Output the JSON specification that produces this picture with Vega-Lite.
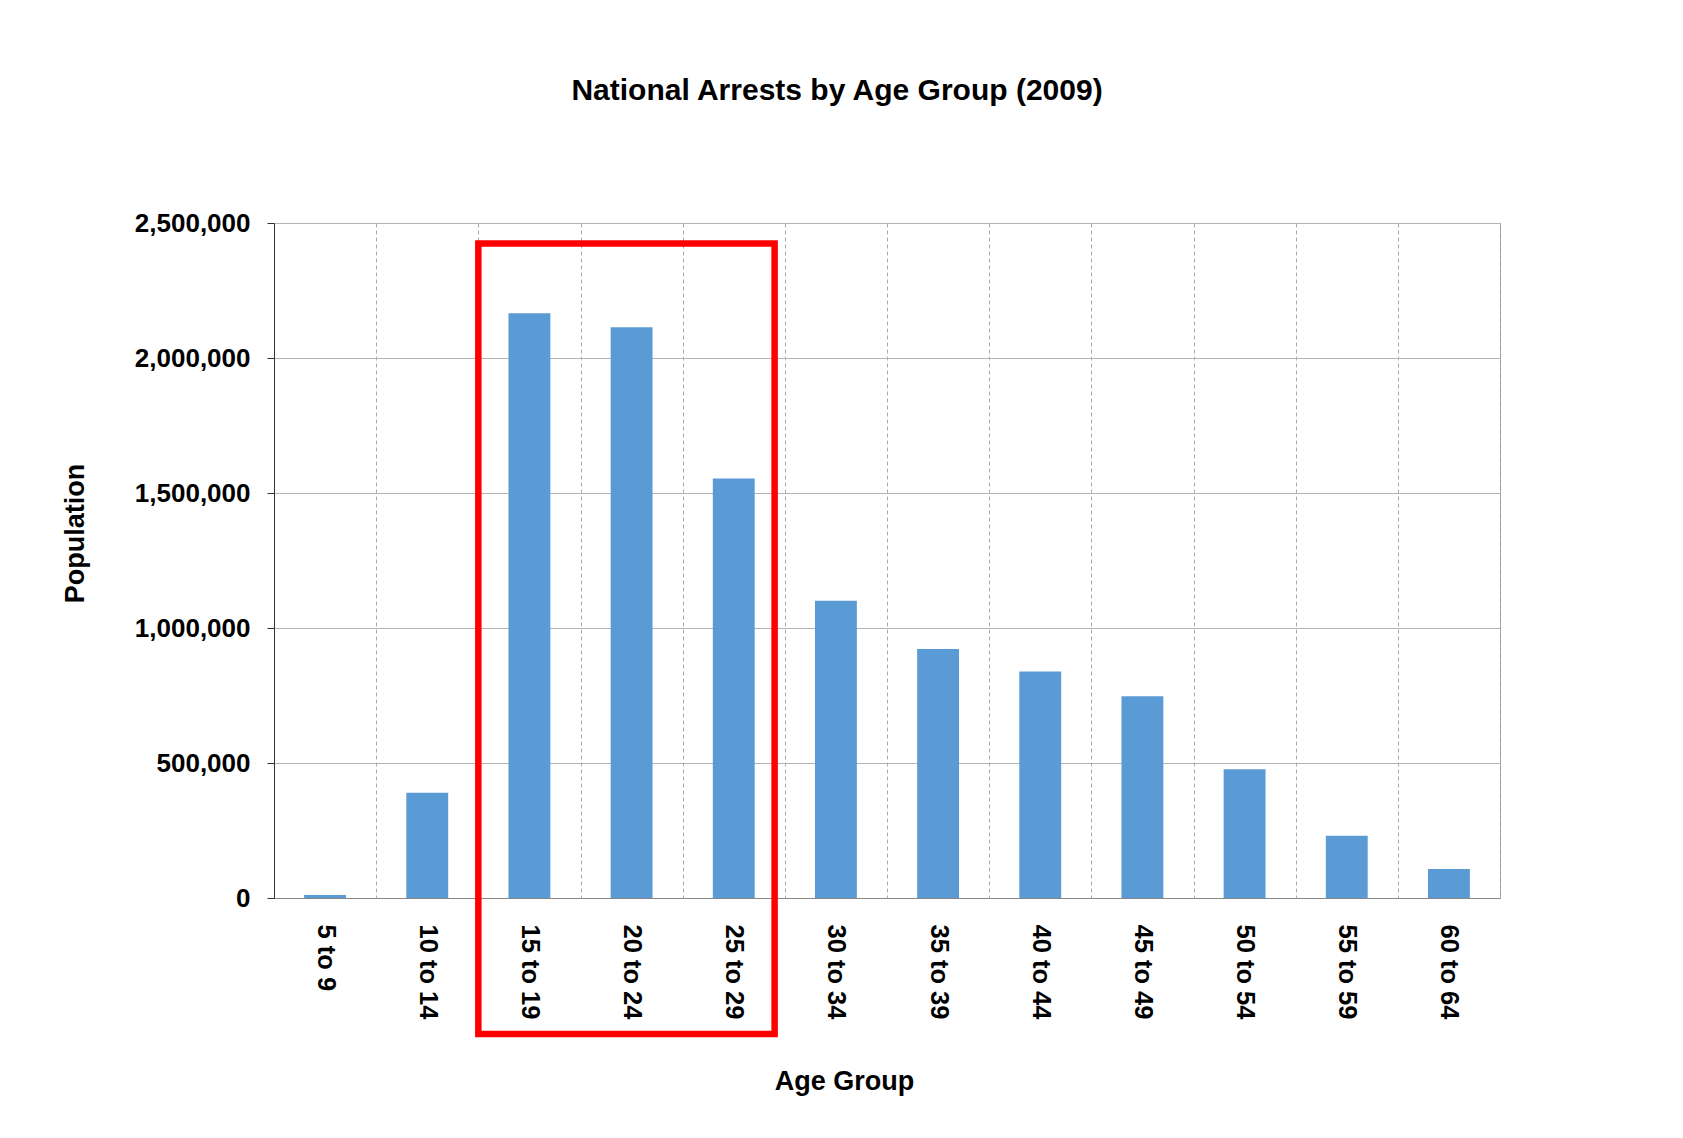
{
  "$schema": "https://vega.github.io/schema/vega-lite/v6.json",
  "width": 1226,
  "height": 675,
  "autosize": {"type": "none"},
  "padding": {"left": 274, "top": 223, "right": 183, "bottom": 240},
  "background": "white",
  "title": {
    "text": "National Arrests by Age Group (2009)",
    "font": "Liberation Sans",
    "fontSize": 30,
    "fontWeight": "bold",
    "color": "black",
    "anchor": "middle",
    "dx": -50,
    "offset": 104
  },
  "datasets": {
    "bars": [
      {"age": "5 to 9", "arrests": 11000},
      {"age": "10 to 14", "arrests": 390000},
      {"age": "15 to 19", "arrests": 2166000},
      {"age": "20 to 24", "arrests": 2114000},
      {"age": "25 to 29", "arrests": 1554000},
      {"age": "30 to 34", "arrests": 1101000},
      {"age": "35 to 39", "arrests": 922000},
      {"age": "40 to 44", "arrests": 839000},
      {"age": "45 to 49", "arrests": 747000},
      {"age": "50 to 54", "arrests": 477000},
      {"age": "55 to 59", "arrests": 231000},
      {"age": "60 to 64", "arrests": 107000}
    ],
    "box": [
      {"from": "15 to 19", "to": "25 to 29", "top": 2424000, "bottom": -504000}
    ]
  },
  "config": {
    "font": "Liberation Sans",
    "view": {"stroke": "#9a9a9a", "strokeWidth": 1}
  },
  "layer": [
    {
      "data": {"name": "bars"},
      "mark": {"type": "bar", "color": "#5B9BD5", "width": {"band": 0.41}},
      "encoding": {
        "x": {
          "field": "age",
          "type": "nominal",
          "sort": null,
          "scale": {
            "domain": ["5 to 9", "10 to 14", "15 to 19", "20 to 24", "25 to 29", "30 to 34", "35 to 39", "40 to 44", "45 to 49", "50 to 54", "55 to 59", "60 to 64"],
            "paddingInner": 0,
            "paddingOuter": 0
          },
          "axis": {
            "title": "Age Group",
            "titleFont": "Liberation Sans",
            "titleFontSize": 27,
            "titleFontWeight": "bold",
            "titleColor": "black",
            "titleX": 570,
            "titleY": 183,
            "titleAlign": "center",
            "titleBaseline": "middle",
            "labelAngle": 90,
            "labelAlign": "left",
            "labelBaseline": "middle",
            "labelFont": "Liberation Sans",
            "labelFontSize": 25.5,
            "labelFontWeight": "bold",
            "labelColor": "black",
            "labelPadding": 26,
            "ticks": false,
            "grid": true,
            "tickBand": "extent",
            "gridDash": [4, 3],
            "gridColor": "#ababab",
            "domainColor": "#888888"
          }
        },
        "y": {
          "field": "arrests",
          "type": "quantitative",
          "scale": {"domain": [0, 2500000], "nice": false},
          "axis": {
            "title": "Population",
            "titleFont": "Liberation Sans",
            "titleFontSize": 27,
            "titleFontWeight": "bold",
            "titleColor": "black",
            "titleX": -199,
            "titleY": 310,
            "titleAlign": "center",
            "titleBaseline": "middle",
            "values": [0, 500000, 1000000, 1500000, 2000000, 2500000],
            "format": ",d",
            "labelFont": "Liberation Sans",
            "labelFontSize": 26,
            "labelFontWeight": "bold",
            "labelColor": "black",
            "labelPadding": 17,
            "tickSize": 7,
            "tickColor": "#333333",
            "domainColor": "#333333",
            "gridColor": "#b4b4b4"
          }
        }
      }
    },
    {
      "data": {"name": "box"},
      "mark": {"type": "rect", "filled": false, "stroke": "#FF0000", "strokeWidth": 6.5, "clip": false},
      "encoding": {
        "x": {"field": "from", "type": "nominal", "bandPosition": 0},
        "x2": {"field": "to", "bandPosition": 0.9},
        "y": {"field": "top", "type": "quantitative"},
        "y2": {"field": "bottom"}
      }
    }
  ]
}
